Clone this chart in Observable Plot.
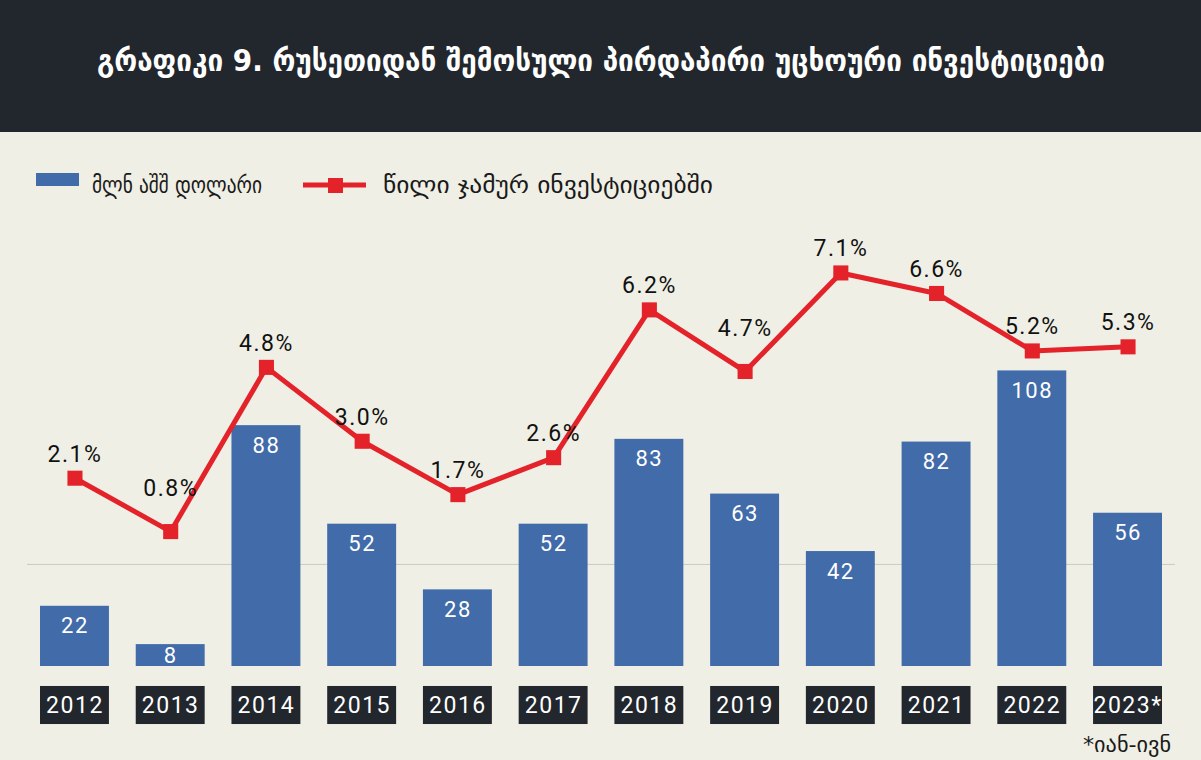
<!DOCTYPE html>
<html><head><meta charset="utf-8">
<script src="https://cdn.jsdelivr.net/npm/d3@7"></script>
<script src="https://cdn.jsdelivr.net/npm/@observablehq/plot@0.6"></script>
<style>
html,body{margin:0;padding:0;background:#efefe5;}
#wrap{position:relative;width:1201px;height:760px;overflow:hidden;background:#efefe5;}
#header{position:absolute;left:0;top:0;width:1201px;height:132px;background:#22262d;}
#chart{position:absolute;left:0;top:132px;width:1201px;}
.ov{position:absolute;left:0;}
</style></head><body>
<div id="wrap">
  <div id="header"><svg width="1201" height="132"><text id="title" x="601" y="71" text-anchor="middle" fill="#ffffff" font-family="'DejaVu Sans Condensed','DejaVu Sans'" font-weight="bold" font-size="30" textLength="1008" lengthAdjust="spacingAndGlyphs"></text></svg></div>
  <div id="chart"></div>
  <svg id="legend" class="ov" style="top:132px" width="1201" height="80">
    <rect x="36" y="41" width="43" height="13" fill="#416ba9"></rect>
    <text id="leg1" x="92" y="61" fill="#1a1a1a" font-family="'DejaVu Sans Condensed','DejaVu Sans'" font-size="24" textLength="170" lengthAdjust="spacingAndGlyphs"></text>
    <line x1="303" y1="53" x2="366" y2="53" stroke="#e3222a" stroke-width="5"></line>
    <rect x="328" y="46" width="15" height="15" fill="#e3222a"></rect>
    <text id="leg2" x="383" y="61" fill="#1a1a1a" font-family="'DejaVu Sans Condensed','DejaVu Sans'" font-size="24" textLength="330" lengthAdjust="spacingAndGlyphs"></text>
  </svg>
  <svg id="note" class="ov" style="top:720px" width="1201" height="40">
    <text id="foot" x="1171" y="32" text-anchor="end" fill="#1a1a1a" font-family="'DejaVu Sans Condensed','DejaVu Sans'" font-size="22" textLength="88" lengthAdjust="spacingAndGlyphs"></text>
  </svg>
</div>
<script>
// ---- data ----
const years = ["2012","2013","2014","2015","2016","2017","2018","2019","2020","2021","2022","2023*"];
const usdMillions = [22, 8, 88, 52, 28, 52, 83, 63, 42, 82, 108, 56];
const sharePct = [2.1, 0.8, 4.8, 3.0, 1.7, 2.6, 6.2, 4.7, 7.1, 6.6, 5.2, 5.3];
const titleText = "გრაფიკი 9. რუსეთიდან შემოსული პირდაპირი უცხოური ინვესტიციები";
const legendLabels = ["მლნ აშშ დოლარი", "წილი ჯამურ ინვესტიციებში"];
const footnoteText = "*იან-ივნ";

document.getElementById("title").textContent = titleText;
document.getElementById("leg1").textContent = legendLabels[0];
document.getElementById("leg2").textContent = legendLabels[1];
document.getElementById("foot").textContent = footnoteText;

const BLUE = "#416ba9", RED = "#e3222a", DARK = "#22262d";
const rows = years.map((y, i) => ({year: y, usd: usdMillions[i], pct: sharePct[i], i}));

// secondary (percent) axis expressed in the bar scale's units
const PCT_ZERO = 37.3, PCT_UNIT = 15.0;
const pctY = p => PCT_ZERO + PCT_UNIT * p;

// valley points whose label must clear the line
const deep = rows.filter((d, i) => i > 0 && i < rows.length - 1 &&
  (rows[i-1].pct - d.pct) + (rows[i+1].pct - d.pct) > 3);
const normal = rows.filter(d => !deep.includes(d));

const numFont = "Roboto, 'DejaVu Sans', sans-serif";

const chart = Plot.plot({
  width: 1201,
  height: 628,
  marginLeft: 27,
  marginRight: 26,
  marginTop: 14,
  marginBottom: 94,
  style: {background: "transparent", letterSpacing: "1.5px", fontFamily: numFont},
  x: {domain: years, range: [40, 1162], paddingInner: 0.28, paddingOuter: 0, round: false, axis: null},
  y: {domain: [0, 190], axis: null},
  marks: [
    Plot.ruleY([0], {y: () => pctY(0), stroke: "#c6ccc2", strokeWidth: 1}),
    Plot.barY(rows, {x: "year", y: "usd", fill: BLUE}),
    Plot.text(rows.filter(d => d.usd >= 15), {x: "year", y: "usd", text: d => String(d.usd), dy: 20, lineAnchor: "middle", fill: "white", fontSize: 22, fontFamily: numFont}),
    Plot.text(rows.filter(d => d.usd < 15), {x: "year", y: d => d.usd / 2, text: d => String(d.usd), lineAnchor: "middle", fill: "white", fontSize: 22, fontFamily: numFont}),
    Plot.line(rows, {x: "year", y: d => pctY(d.pct), stroke: RED, strokeWidth: 5}),
    Plot.dot(rows, {x: "year", y: d => pctY(d.pct), symbol: "square", r: 8.5, fill: RED, stroke: "none"}),
    Plot.text(normal, {x: "year", y: d => pctY(d.pct), text: d => d.pct.toFixed(1) + "%", dy: -24, lineAnchor: "middle", fill: "#111", fontSize: 23, fontFamily: numFont}),
    Plot.text(deep, {x: "year", y: d => pctY(d.pct), text: d => d.pct.toFixed(1) + "%", dy: -43, lineAnchor: "middle", fill: "#111", fontSize: 23, fontFamily: numFont}),
    Plot.barY(rows, {x: "year", y1: () => -7.3, y2: () => -21.2, fill: DARK}),
    Plot.text(rows, {x: "year", y: () => -14.25, text: "year", lineAnchor: "middle", fill: "white", fontSize: 23, fontFamily: numFont})
  ]
});
document.getElementById("chart").appendChild(chart);
</script>
</body></html>
